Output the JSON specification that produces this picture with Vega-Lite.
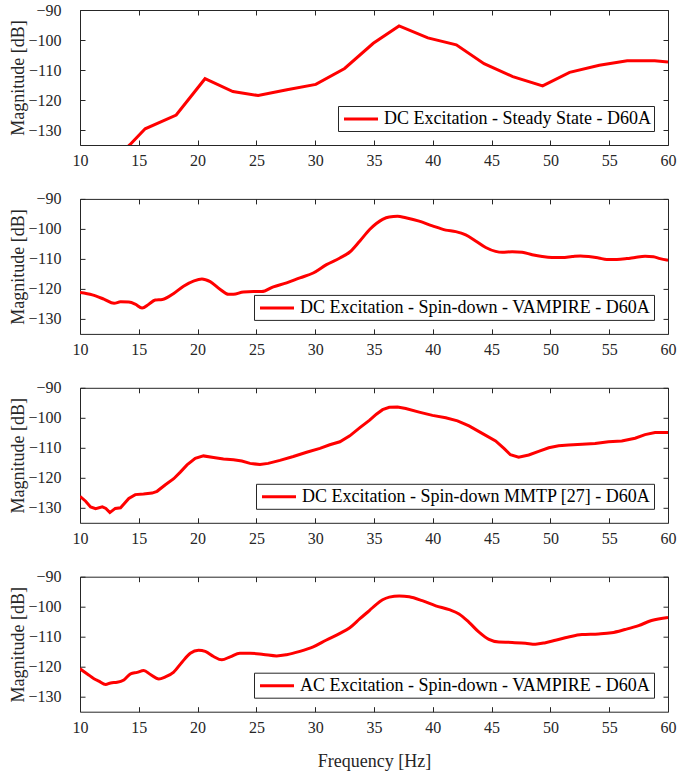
{
  "$schema": "https://vega.github.io/schema/vega-lite/v6.json",
  "padding": {"left": 9, "top": 1, "right": 5, "bottom": 5},
  "background": "white",
  "datasets": {
    "p1": [
      {"f": 13.0, "v": -139.2}, {"f": 14.22, "v": -135.0}, {"f": 15.54, "v": -129.6}, {"f": 18.18, "v": -125.0},
      {"f": 20.63, "v": -112.9}, {"f": 23.0, "v": -117.2}, {"f": 25.15, "v": -118.5}, {"f": 27.6, "v": -116.6},
      {"f": 30.05, "v": -114.8}, {"f": 32.5, "v": -109.5}, {"f": 34.94, "v": -101.1}, {"f": 37.13, "v": -95.3},
      {"f": 39.58, "v": -99.3}, {"f": 42.0, "v": -101.6}, {"f": 44.36, "v": -107.9}, {"f": 46.8, "v": -112.2},
      {"f": 49.34, "v": -115.3}, {"f": 51.63, "v": -110.8}, {"f": 54.16, "v": -108.4}, {"f": 56.53, "v": -106.9},
      {"f": 58.87, "v": -106.9}, {"f": 60.0, "v": -107.3}
    ],
    "p2": [
      {"f": 10.0, "v": -121.2}, {"f": 11.05, "v": -122.0}, {"f": 12.03, "v": -123.4}, {"f": 12.9, "v": -124.8},
      {"f": 13.45, "v": -124.3}, {"f": 14.15, "v": -124.4}, {"f": 14.7, "v": -125.1}, {"f": 15.28, "v": -126.4},
      {"f": 15.85, "v": -125.1}, {"f": 16.4, "v": -123.7}, {"f": 17.0, "v": -123.5}, {"f": 17.97, "v": -121.5},
      {"f": 18.8, "v": -119.1}, {"f": 19.7, "v": -117.3}, {"f": 20.37, "v": -116.7}, {"f": 21.07, "v": -117.6},
      {"f": 21.9, "v": -120.1}, {"f": 22.63, "v": -121.8}, {"f": 23.05, "v": -121.8}, {"f": 23.9, "v": -121.0},
      {"f": 24.75, "v": -120.9}, {"f": 25.45, "v": -120.9}, {"f": 26.44, "v": -119.3}, {"f": 27.57, "v": -118.0},
      {"f": 28.7, "v": -116.3}, {"f": 29.83, "v": -114.7}, {"f": 30.96, "v": -111.9}, {"f": 32.1, "v": -109.7},
      {"f": 32.94, "v": -107.7}, {"f": 33.8, "v": -104.0}, {"f": 34.63, "v": -100.2}, {"f": 35.2, "v": -98.2},
      {"f": 35.73, "v": -96.8}, {"f": 36.3, "v": -96.0}, {"f": 37.0, "v": -95.8}, {"f": 37.7, "v": -96.3},
      {"f": 38.84, "v": -97.4}, {"f": 39.97, "v": -99.0}, {"f": 41.1, "v": -100.4}, {"f": 41.95, "v": -100.9},
      {"f": 42.8, "v": -102.0}, {"f": 43.64, "v": -104.0}, {"f": 44.5, "v": -106.2}, {"f": 45.34, "v": -107.5},
      {"f": 45.9, "v": -107.8}, {"f": 46.75, "v": -107.6}, {"f": 47.6, "v": -107.8}, {"f": 48.45, "v": -108.6},
      {"f": 49.3, "v": -109.2}, {"f": 50.14, "v": -109.5}, {"f": 51.0, "v": -109.5}, {"f": 51.85, "v": -109.2},
      {"f": 52.55, "v": -109.0}, {"f": 53.25, "v": -109.2}, {"f": 54.1, "v": -109.7}, {"f": 54.8, "v": -110.2},
      {"f": 55.65, "v": -110.2}, {"f": 56.5, "v": -109.9}, {"f": 57.2, "v": -109.5}, {"f": 58.05, "v": -109.1},
      {"f": 58.76, "v": -109.3}, {"f": 59.32, "v": -109.9}, {"f": 60.0, "v": -110.5}
    ],
    "p3": [
      {"f": 10.0, "v": -126.2}, {"f": 10.48, "v": -127.8}, {"f": 10.9, "v": -129.7}, {"f": 11.33, "v": -130.3},
      {"f": 11.9, "v": -129.7}, {"f": 12.2, "v": -130.2}, {"f": 12.54, "v": -131.6}, {"f": 13.0, "v": -130.2},
      {"f": 13.45, "v": -130.0}, {"f": 14.15, "v": -126.9}, {"f": 14.7, "v": -125.6}, {"f": 15.4, "v": -125.4},
      {"f": 16.13, "v": -125.1}, {"f": 16.55, "v": -124.5}, {"f": 17.26, "v": -122.3}, {"f": 17.97, "v": -120.3},
      {"f": 18.53, "v": -118.1}, {"f": 19.1, "v": -115.7}, {"f": 19.8, "v": -113.5}, {"f": 20.5, "v": -112.7},
      {"f": 21.36, "v": -113.2}, {"f": 22.2, "v": -113.7}, {"f": 23.05, "v": -114.0}, {"f": 23.76, "v": -114.4},
      {"f": 24.46, "v": -115.2}, {"f": 25.3, "v": -115.6}, {"f": 26.0, "v": -115.2}, {"f": 27.0, "v": -114.2},
      {"f": 28.14, "v": -112.9}, {"f": 29.27, "v": -111.5}, {"f": 30.4, "v": -110.2}, {"f": 31.24, "v": -109.0},
      {"f": 32.1, "v": -108.0}, {"f": 32.94, "v": -106.0}, {"f": 33.8, "v": -103.3}, {"f": 34.63, "v": -100.8},
      {"f": 35.2, "v": -98.8}, {"f": 35.73, "v": -97.3}, {"f": 36.3, "v": -96.5}, {"f": 37.0, "v": -96.4},
      {"f": 37.7, "v": -96.9}, {"f": 38.84, "v": -98.1}, {"f": 39.97, "v": -99.2}, {"f": 41.1, "v": -100.0},
      {"f": 42.1, "v": -101.0}, {"f": 43.08, "v": -102.7}, {"f": 44.2, "v": -105.2}, {"f": 45.34, "v": -107.7},
      {"f": 46.05, "v": -110.2}, {"f": 46.6, "v": -112.3}, {"f": 47.3, "v": -113.1}, {"f": 48.16, "v": -112.4},
      {"f": 49.0, "v": -111.2}, {"f": 49.86, "v": -110.0}, {"f": 50.7, "v": -109.3}, {"f": 51.55, "v": -109.1},
      {"f": 52.7, "v": -108.8}, {"f": 53.8, "v": -108.6}, {"f": 54.94, "v": -108.0}, {"f": 56.07, "v": -107.7},
      {"f": 57.2, "v": -106.8}, {"f": 58.05, "v": -105.6}, {"f": 58.9, "v": -104.9}, {"f": 60.0, "v": -104.9}
    ],
    "p4": [
      {"f": 10.0, "v": -120.7}, {"f": 10.62, "v": -122.4}, {"f": 11.19, "v": -124.0}, {"f": 11.6, "v": -124.8},
      {"f": 12.18, "v": -125.9}, {"f": 12.6, "v": -125.4}, {"f": 13.16, "v": -125.2}, {"f": 13.73, "v": -124.4},
      {"f": 14.3, "v": -122.4}, {"f": 14.86, "v": -121.9}, {"f": 15.42, "v": -121.3}, {"f": 15.99, "v": -122.6},
      {"f": 16.7, "v": -124.1}, {"f": 17.26, "v": -123.4}, {"f": 17.97, "v": -121.8}, {"f": 18.67, "v": -118.5},
      {"f": 19.38, "v": -115.5}, {"f": 20.08, "v": -114.5}, {"f": 20.65, "v": -114.9}, {"f": 21.36, "v": -116.6},
      {"f": 22.06, "v": -117.7}, {"f": 22.77, "v": -116.7}, {"f": 23.6, "v": -115.5}, {"f": 24.46, "v": -115.5},
      {"f": 25.6, "v": -115.9}, {"f": 26.72, "v": -116.4}, {"f": 27.57, "v": -116.0}, {"f": 28.7, "v": -114.9},
      {"f": 29.83, "v": -113.4}, {"f": 30.96, "v": -111.1}, {"f": 32.1, "v": -108.9}, {"f": 32.94, "v": -107.0},
      {"f": 33.8, "v": -104.0}, {"f": 34.63, "v": -101.2}, {"f": 35.2, "v": -99.2}, {"f": 35.73, "v": -97.7},
      {"f": 36.3, "v": -96.8}, {"f": 37.15, "v": -96.4}, {"f": 38.0, "v": -96.7}, {"f": 39.1, "v": -98.0},
      {"f": 40.25, "v": -99.7}, {"f": 41.4, "v": -101.0}, {"f": 42.23, "v": -102.4}, {"f": 43.08, "v": -105.2},
      {"f": 43.93, "v": -108.5}, {"f": 44.77, "v": -110.9}, {"f": 45.62, "v": -111.8}, {"f": 46.75, "v": -111.9},
      {"f": 47.88, "v": -112.2}, {"f": 48.73, "v": -112.5}, {"f": 49.58, "v": -112.0}, {"f": 50.43, "v": -111.2},
      {"f": 51.55, "v": -110.1}, {"f": 52.68, "v": -109.3}, {"f": 54.1, "v": -109.1}, {"f": 55.2, "v": -108.7},
      {"f": 56.35, "v": -107.6}, {"f": 57.5, "v": -106.3}, {"f": 58.6, "v": -104.6}, {"f": 60.0, "v": -103.6}
    ]
  },
  "vconcat": [
    {
      "width": 588, "height": 135,
      "data": {"name": "p1"},
      "layer": [
        {
          "mark": {"type": "line", "strokeWidth": 3, "clip": true},
          "encoding": {
            "x": {"field": "f", "type": "quantitative", "scale": {"domain": [10, 60], "nice": false}, "axis": {"values": [10, 15, 20, 25, 30, 35, 40, 45, 50, 55, 60], "title": null}},
            "y": {"field": "v", "type": "quantitative", "scale": {"domain": [-135, -90], "nice": false}, "axis": {"values": [-90, -100, -110, -120, -130], "title": "Magnitude [dB]"}},
            "color": {"datum": "DC Excitation - Steady State - D60A", "type": "nominal", "scale": {"range": ["#ff0000"]}, "legend": {"orient": "bottom-right", "offset": 14}}
          }
        },
        {
          "mark": {"type": "line", "strokeOpacity": 0, "clip": true},
          "encoding": {
            "x": {"field": "f", "type": "quantitative", "scale": {"domain": [10, 60], "nice": false}, "axis": {"orient": "top", "labels": false, "values": [10, 15, 20, 25, 30, 35, 40, 45, 50, 55, 60], "title": null}},
            "y": {"field": "v", "type": "quantitative", "scale": {"domain": [-135, -90], "nice": false}, "axis": {"orient": "right", "labels": false, "values": [-90, -100, -110, -120, -130], "title": null}}
          }
        }
      ],
      "resolve": {"axis": {"x": "independent", "y": "independent"}}
    },
    {
      "width": 588, "height": 135,
      "data": {"name": "p2"},
      "layer": [
        {
          "mark": {"type": "line", "strokeWidth": 3, "clip": true, "interpolate": "monotone"},
          "encoding": {
            "x": {"field": "f", "type": "quantitative", "scale": {"domain": [10, 60], "nice": false}, "axis": {"values": [10, 15, 20, 25, 30, 35, 40, 45, 50, 55, 60], "title": null}},
            "y": {"field": "v", "type": "quantitative", "scale": {"domain": [-135, -90], "nice": false}, "axis": {"values": [-90, -100, -110, -120, -130], "title": "Magnitude [dB]"}},
            "color": {"datum": "DC Excitation - Spin-down - VAMPIRE - D60A", "type": "nominal", "scale": {"range": ["#ff0000"]}, "legend": {"orient": "bottom-right", "offset": 14}}
          }
        },
        {
          "mark": {"type": "line", "strokeOpacity": 0, "clip": true},
          "encoding": {
            "x": {"field": "f", "type": "quantitative", "scale": {"domain": [10, 60], "nice": false}, "axis": {"orient": "top", "labels": false, "values": [10, 15, 20, 25, 30, 35, 40, 45, 50, 55, 60], "title": null}},
            "y": {"field": "v", "type": "quantitative", "scale": {"domain": [-135, -90], "nice": false}, "axis": {"orient": "right", "labels": false, "values": [-90, -100, -110, -120, -130], "title": null}}
          }
        }
      ],
      "resolve": {"axis": {"x": "independent", "y": "independent"}}
    },
    {
      "width": 588, "height": 135,
      "data": {"name": "p3"},
      "layer": [
        {
          "mark": {"type": "line", "strokeWidth": 3, "clip": true},
          "encoding": {
            "x": {"field": "f", "type": "quantitative", "scale": {"domain": [10, 60], "nice": false}, "axis": {"values": [10, 15, 20, 25, 30, 35, 40, 45, 50, 55, 60], "title": null}},
            "y": {"field": "v", "type": "quantitative", "scale": {"domain": [-135, -90], "nice": false}, "axis": {"values": [-90, -100, -110, -120, -130], "title": "Magnitude [dB]"}},
            "color": {"datum": "DC Excitation - Spin-down MMTP [27] - D60A", "type": "nominal", "scale": {"range": ["#ff0000"]}, "legend": {"orient": "bottom-right", "offset": 14}}
          }
        },
        {
          "mark": {"type": "line", "strokeOpacity": 0, "clip": true},
          "encoding": {
            "x": {"field": "f", "type": "quantitative", "scale": {"domain": [10, 60], "nice": false}, "axis": {"orient": "top", "labels": false, "values": [10, 15, 20, 25, 30, 35, 40, 45, 50, 55, 60], "title": null}},
            "y": {"field": "v", "type": "quantitative", "scale": {"domain": [-135, -90], "nice": false}, "axis": {"orient": "right", "labels": false, "values": [-90, -100, -110, -120, -130], "title": null}}
          }
        }
      ],
      "resolve": {"axis": {"x": "independent", "y": "independent"}}
    },
    {
      "width": 588, "height": 135,
      "data": {"name": "p4"},
      "layer": [
        {
          "mark": {"type": "line", "strokeWidth": 3, "clip": true, "interpolate": "monotone"},
          "encoding": {
            "x": {"field": "f", "type": "quantitative", "scale": {"domain": [10, 60], "nice": false}, "axis": {"values": [10, 15, 20, 25, 30, 35, 40, 45, 50, 55, 60], "title": "Frequency [Hz]"}},
            "y": {"field": "v", "type": "quantitative", "scale": {"domain": [-135, -90], "nice": false}, "axis": {"values": [-90, -100, -110, -120, -130], "title": "Magnitude [dB]"}},
            "color": {"datum": "AC Excitation - Spin-down - VAMPIRE - D60A", "type": "nominal", "scale": {"range": ["#ff0000"]}, "legend": {"orient": "bottom-right", "offset": 14}}
          }
        },
        {
          "mark": {"type": "line", "strokeOpacity": 0, "clip": true},
          "encoding": {
            "x": {"field": "f", "type": "quantitative", "scale": {"domain": [10, 60], "nice": false}, "axis": {"orient": "top", "labels": false, "values": [10, 15, 20, 25, 30, 35, 40, 45, 50, 55, 60], "title": null}},
            "y": {"field": "v", "type": "quantitative", "scale": {"domain": [-135, -90], "nice": false}, "axis": {"orient": "right", "labels": false, "values": [-90, -100, -110, -120, -130], "title": null}}
          }
        }
      ],
      "resolve": {"axis": {"x": "independent", "y": "independent"}}
    }
  ],
  "spacing": 20.9,
  "resolve": {"scale": {"color": "independent"}, "legend": {"color": "independent"}},
  "config": {
    "font": "Liberation Serif",
    "view": {"stroke": "#262626", "strokeWidth": 1},
    "axis": {
      "domain": false, "grid": false, "labelFlush": false, "labelOverlap": false,
      "tickSize": -5, "tickColor": "#262626", "tickWidth": 1,
      "labelFont": "Liberation Serif", "labelFontSize": 16, "labelColor": "#262626",
      "titleFont": "Liberation Serif", "titleFontSize": 18, "titleFontWeight": "normal", "titleColor": "#262626"
    },
    "axisX": {"labelPadding": 12.5, "titlePadding": 17},
    "axisY": {"labelPadding": 24, "titlePadding": 0},
    "legend": {
      "title": null,
      "labelFont": "Liberation Serif", "labelFontSize": 18, "labelColor": "#000000", "labelLimit": 500,
      "strokeColor": "#262626", "fillColor": "white", "padding": 3,
      "symbolType": "M-2,0L2,0", "symbolStrokeWidth": 3, "symbolSize": 289, "symbolOffset": 10, "labelOffset": 13
    }
  }
}
